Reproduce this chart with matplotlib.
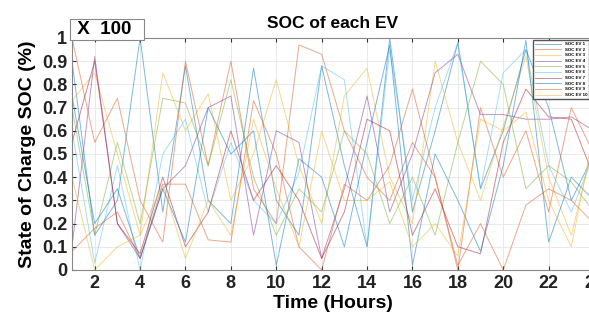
import matplotlib
matplotlib.use('Agg')
import matplotlib.pyplot as plt
import numpy as np

plt.rcParams['font.family'] = ['Liberation Sans', 'DejaVu Sans']

hours = list(range(1, 25))

ev1 = [0.9, 0.15, 0.3, 1.0, 0.25, 0.88, 0.3, 0.2, 0.87, 0.3, 0.15, 0.88, 0.45, 0.1, 1.0, 0.25, 0.6, 0.98, 0.35, 0.6, 0.95, 0.7, 0.3, 0.5]
ev2 = [1.0, 0.55, 0.74, 0.3, 0.12, 0.9, 0.45, 0.9, 0.35, 0.2, 0.97, 0.93, 0.6, 0.4, 0.3, 0.55, 0.4, 0.0, 0.7, 0.4, 0.6, 0.25, 0.7, 0.5]
ev3 = [0.73, 0.85, 0.5, 0.15, 0.85, 0.6, 0.76, 0.3, 0.5, 0.82, 0.45, 0.2, 0.75, 0.87, 0.4, 0.2, 0.9, 0.55, 0.3, 0.62, 0.92, 0.4, 0.15, 0.55]
ev4 = [0.1, 0.92, 0.2, 0.05, 0.35, 0.45, 0.7, 0.75, 0.15, 0.6, 0.55, 0.05, 0.35, 0.75, 0.25, 0.5, 0.85, 0.93, 0.67, 0.67, 0.65, 0.65, 0.66, 0.6]
ev5 = [0.7, 0.15, 0.55, 0.2, 0.74, 0.72, 0.45, 0.82, 0.4, 0.15, 0.35, 0.25, 0.6, 0.5, 0.2, 0.4, 0.15, 0.55, 0.9, 0.8, 0.35, 0.45, 0.38, 0.25]
ev6 = [0.6, 0.03, 0.45, 0.0, 0.5, 0.65, 0.25, 0.55, 0.3, 0.2, 0.42, 0.88, 0.82, 0.1, 0.95, 0.3, 0.7, 0.98, 0.35, 0.85, 0.95, 0.45, 0.25, 0.5]
ev7 = [0.55, 0.9, 0.2, 0.07, 0.4, 0.1, 0.25, 0.6, 0.3, 0.45, 0.3, 0.05, 0.25, 0.65, 0.6, 0.15, 0.35, 0.1, 0.07, 0.55, 0.78, 0.66, 0.65, 0.4]
ev8 = [0.75, 0.2, 0.35, 0.05, 0.35, 0.12, 0.7, 0.5, 0.6, 0.02, 0.48, 0.4, 0.1, 0.55, 0.97, 0.02, 0.5, 0.3, 0.08, 0.45, 0.99, 0.12, 0.4, 0.3]
ev9 = [0.08, 0.18, 0.25, 0.05, 0.37, 0.37, 0.13, 0.12, 0.73, 0.5, 0.1, 0.0, 0.37, 0.3, 0.45, 0.78, 0.4, 0.02, 0.2, 0.0, 0.28, 0.35, 0.3, 0.2]
ev10 = [0.4, 0.0, 0.1, 0.15, 0.37, 0.05, 0.3, 0.15, 0.65, 0.35, 0.1, 0.6, 0.3, 0.3, 0.38, 0.1, 0.2, 0.06, 0.65, 0.6, 0.68, 0.3, 0.1, 0.6]

series = [ev1, ev2, ev3, ev4, ev5, ev6, ev7, ev8, ev9, ev10]
labels = ['SOC EV %d' % (i + 1) for i in range(10)]

# matlab default line order
colors = ['#0072BD', '#D95319', '#EDB120', '#7E2F8E', '#77AC30',
          '#4DBEEE', '#A2142F', '#0072BD', '#D95319', '#EDB120']

fig = plt.figure(figsize=(5.89, 3.27), dpi=100)
ax = fig.add_axes([72/589, 57/327, 522/589, 232/327])

for y, lab, c in zip(series, labels, colors):
    ax.plot(hours, y, color=c, lw=0.7, alpha=0.5, label=lab)

ax.set_xlim(1, 24)
ax.set_ylim(0, 1)
ax.set_xticks(range(2, 25, 2))
ax.set_yticks(np.arange(0, 1.01, 0.1))
ax.set_yticklabels(['0', '0.1', '0.2', '0.3', '0.4', '0.5', '0.6', '0.7', '0.8', '0.9', '1'])
ax.grid(True, color='#e6e6e6', lw=0.6)
ax.tick_params(direction='in', length=3, colors='#333333', labelsize=13, top=True, right=True)
for lbl in ax.get_xticklabels() + ax.get_yticklabels():
    lbl.set_fontweight('bold')
    lbl.set_color('#222222')
for s in ax.spines.values():
    s.set_color('#888888')
    s.set_linewidth(0.8)

ax.set_xlabel('Time (Hours)', fontsize=14, fontweight='bold', labelpad=2)
ax.set_ylabel('State of Charge SOC (%)', fontsize=14, fontweight='bold', labelpad=4)
ax.set_title('SOC of each EV', fontsize=12.5, fontweight='bold', pad=7)

ax.text(0.0, 1.0, ' X  100  ', transform=ax.transAxes, ha='left', va='bottom',
        fontsize=13.5, fontweight='bold',
        bbox=dict(boxstyle='square,pad=0.1', fc='white', ec='#888888', lw=0.8))

leg = ax.legend(loc='upper right', bbox_to_anchor=(0.995, 1.0), fontsize=3.2,
                handlelength=6, labelspacing=0.35, borderpad=0.4,
                fancybox=False, framealpha=1, edgecolor='#555555')
for t in leg.get_texts():
    t.set_fontweight('bold')

fig.savefig('out.png', dpi=100)
